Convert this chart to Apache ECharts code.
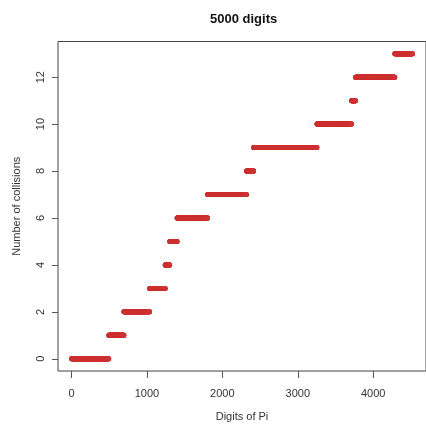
<!DOCTYPE html>
<html>
<head>
<meta charset="utf-8">
<script src="https://cdn.jsdelivr.net/npm/echarts@6/dist/echarts.min.js"></script>
<style>html,body{margin:0;padding:0;background:#fff}#c{width:426px;height:429px}</style>
</head>
<body>
<div id="c"></div>
<script>
// Digit positions at which a new collision occurs
var collisionDigits = [495, 695, 1037, 1242, 1303, 1400, 1805, 2320, 2416, 3254, 3713, 3766, 4287];
var totalDigits = 4520;
var xTicks = [0, 1000, 2000, 3000, 4000];
var yTicks = [0, 2, 4, 6, 8, 10, 12];

// Build one point per digit: cumulative number of collisions so far
var points = [];
var k = 0;
for (var i = 1; i <= totalDigits; i++) {
  while (k < collisionDigits.length && collisionDigits[k] <= i) k++;
  points.push([i, k]);
}

var font = 'Liberation Sans, Arial, sans-serif';
var chart = echarts.init(document.getElementById('c'), null, {renderer: 'canvas'});
chart.setOption({
  animation: false,
  backgroundColor: '#fff',
  title: {
    text: '5000 digits',
    left: 205, top: 8,
    textStyle: {fontFamily: font, fontSize: 13, fontWeight: 'bold', color: '#111'}
  },
  grid: {
    left: 58, right: -2, top: 41.5, bottom: 58,
    show: true, borderColor: '#444', borderWidth: 1, backgroundColor: 'transparent'
  },
  xAxis: {
    type: 'value', min: -179, max: 4700,
    name: 'Digits of Pi', nameLocation: 'middle', nameGap: 40,
    nameTextStyle: {fontFamily: font, fontSize: 11, color: '#333'},
    axisLine: {show: false, onZero: false},
    splitLine: {show: false},
    axisTick: {show: true, inside: false, length: 7, lineStyle: {color: '#555'}, customValues: xTicks},
    axisLabel: {fontFamily: font, fontSize: 11, color: '#333', margin: 17, customValues: xTicks,
      formatter: function (v) { return String(v); }}
  },
  yAxis: {
    type: 'value', min: -0.52, max: 13.52,
    name: 'Number of collisions', nameLocation: 'middle', nameGap: 36,
    nameTextStyle: {fontFamily: font, fontSize: 11, color: '#333'},
    axisLine: {show: false, onZero: false},
    splitLine: {show: false},
    axisTick: {show: true, inside: false, length: 6, lineStyle: {color: '#555'}, customValues: yTicks},
    axisLabel: {fontFamily: font, fontSize: 11, color: '#333', margin: 12, rotate: 90, customValues: yTicks,
      formatter: function (v) { return String(v); }}
  },
  series: [{
    type: 'scatter',
    data: points,
    symbol: 'circle',
    symbolSize: 5,
    itemStyle: {color: '#cd3333', opacity: 1},
    large: false,
    silent: true
  }]
});
</script>
</body>
</html>
